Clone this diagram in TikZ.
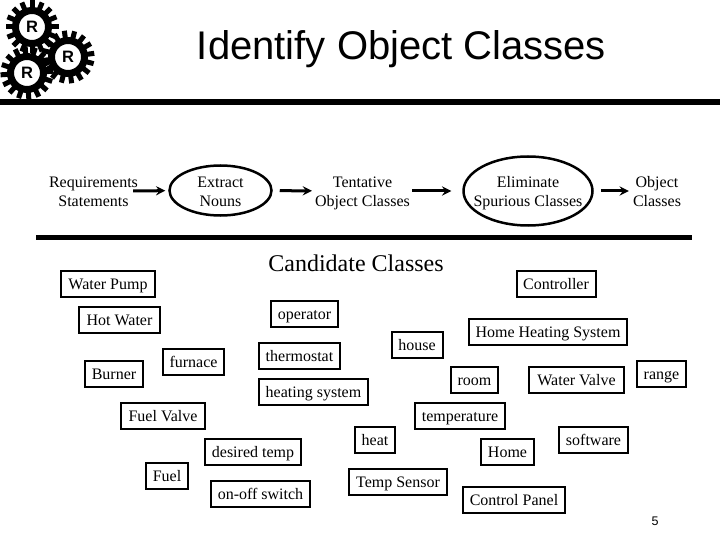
\documentclass[tikz,border=0pt]{standalone}
\usepackage{fontspec}
\setmainfont{Liberation Serif}
\setsansfont{Liberation Sans}
\usetikzlibrary{arrows,shapes.geometric}

\tikzset{
    body/.style = {font=\fontsize{16}{19}\selectfont, align=center, inner sep=0pt, text height=34pt, text depth=2pt},
    classbox/.style = {draw, line width=2pt, font=\fontsize{16}{19}\selectfont, inner sep=0pt,
        minimum height=26pt, text height=12.5pt, text depth=2pt},
    process/.style = {ellipse, draw, line width=2.5pt, inner sep=0pt},
    gear/.style = {circle, draw, line width=7pt, fill=white, inner sep=0pt, minimum size=33pt,
        font=\fontsize{16.5}{18}\sffamily\bfseries\selectfont},
    tooth/.style = {line width=5pt}
}

\begin{document}
\begin{tikzpicture}[x=1pt, y=-1pt]
                \useasboundingbox (0,0) rectangle (720,540);

                \node (gear1) [gear] at (32,27) {R};
                \node (gear2) [gear] at (68,57) {R};
                \node (gear3) [gear] at (27,73) {R};
                \foreach \g/\o in {gear1/0, gear2/8, gear3/4}
                    \foreach \a in {0,22.5,...,337.5}
                        \draw [tooth] (\g.center) ++(\a+\o:18pt) -- ++(\a+\o:8.5pt);

                \node (title) [anchor=base, font=\fontsize{40}{44}\sffamily\selectfont, inner sep=0pt] at (401.5,60) {Identify Object Classes};
                \coordinate (topleft) at (0,102);
                \coordinate (topright) at (720,102);
                \draw [line width=6pt] (topleft) -- (topright);

                \node (req) [body] at (93.5,191) {Requirements\\Statements};
                \node (extract) [process, minimum width=102pt, minimum height=50pt] at (220.5,190.5) {};
                \node (extracttext) [body] at (220.5,191) {Extract\\Nouns};
                \node (tentative) [body] at (362.5,191) {Tentative\\Object Classes};
                \node (eliminate) [process, minimum width=129pt, minimum height=69pt] at (528,191) {};
                \node (eliminatetext) [body] at (528,191) {Eliminate\\Spurious Classes};
                \node (object) [body] at (657,191) {Object\\Classes};

                \path [-stealth, line width=3pt]
                    (req) edge [shorten <=-5pt, shorten >=3pt] (extract)
                    (extract) edge [shorten <=7pt, shorten >=3pt] (tentative)
                    (tentative) edge [shorten <=2pt, shorten >=11pt] (eliminate)
                    (eliminate) edge [shorten <=7pt, shorten >=4pt] (object);

                \coordinate (ruleleft) at (36,237.5);
                \coordinate (ruleright) at (692,237.5);
                \draw [line width=5pt] (ruleleft) -- (ruleright);

                \node (candidate) [font=\fontsize{24}{26}\selectfont, inner sep=0pt] at (356,263) {Candidate Classes};

                \node (waterpump) [classbox, minimum width=94pt] at (108,284) {Water Pump};
                \node (hotwater) [classbox, minimum width=81pt] at (119.5,320) {Hot Water};
                \node (furnace) [classbox, minimum width=61pt] at (193.5,362) {furnace};
                \node (burner) [classbox, minimum width=58pt] at (114,374) {Burner};
                \node (operator) [classbox, minimum width=67pt] at (304.5,314) {operator};
                \node (thermostat) [classbox, minimum width=81pt] at (299.5,356) {thermostat};
                \node (heatingsystem) [classbox, minimum width=109pt] at (313.5,392) {heating system};
                \node (fuelvalve) [classbox, minimum width=84pt] at (163,416) {Fuel Valve};
                \node (desiredtemp) [classbox, minimum width=96pt] at (253,452) {desired temp};
                \node (fuel) [classbox, minimum width=42pt] at (167,476) {Fuel};
                \node (onoff) [classbox, minimum width=99pt] at (260.5,494) {on-off switch};

                \node (controller) [classbox, minimum width=79pt] at (556,284) {Controller};
                \node (homeheating) [classbox, minimum width=158pt] at (548,332) {Home Heating System};
                \node (house) [classbox, minimum width=51pt] at (417,345) {house};
                \node (room) [classbox, minimum width=47pt] at (474.5,380) {room};
                \node (watervalve) [classbox, minimum width=95pt] at (576.5,380) {Water Valve};
                \node (range) [classbox, minimum width=49pt] at (661.5,374) {range};
                \node (temperature) [classbox, minimum width=90pt] at (460,416) {temperature};
                \node (heat) [classbox, minimum width=40pt] at (375,440) {heat};
                \node (software) [classbox, minimum width=69pt] at (593.5,440) {software};
                \node (home) [classbox, minimum width=53pt] at (507.5,452) {Home};
                \node (tempsensor) [classbox, minimum width=98pt] at (398,482) {Temp Sensor};
                \node (controlpanel) [classbox, minimum width=102pt] at (514,500) {Control Panel};

                \node (pagenum) [font=\fontsize{12.5}{14}\sffamily\selectfont, inner sep=0pt] at (655,521.5) {5};
            \end{tikzpicture}
\end{document}
